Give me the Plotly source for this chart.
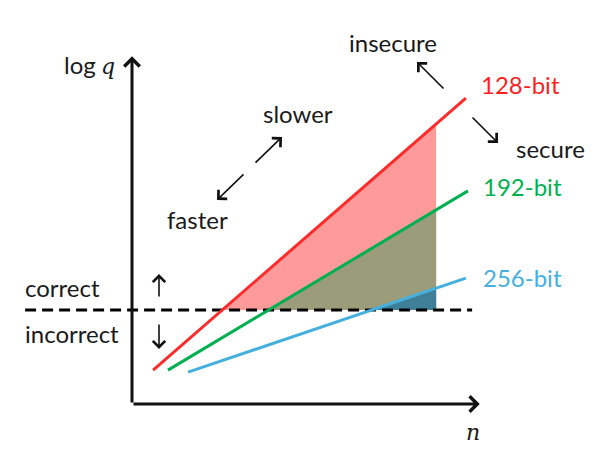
import numpy as np
import plotly.graph_objects as go

# Conceptual data (abstract units: n on x, log q on y)
series_names = ["128-bit", "192-bit", "256-bit"]
series_x = [[0.61, 9.65], [1.04, 9.71], [1.62, 9.65]]
series_y = [[0.98, 8.84], [0.98, 6.16], [0.92, 3.64]]
line_colors = ["#FF2A2A", "#00B050", "#45B0DE"]
fill_colors = ["#FF9A9A", "#9A9C7A", "#3F7F98"]
label_colors = ["#FF1F1F", "#00B050", "#45B0DE"]

correct_level = 2.72      # log q threshold (dashed line)
dash_x = [-3.09, 9.83]
n_max = 8.79              # right edge of shaded region

fig = go.Figure()

# shaded triangles
for xs, ys, fc in zip(series_x, series_y, fill_colors):
    xs = np.array(xs); ys = np.array(ys)
    slope = (ys[1] - ys[0]) / (xs[1] - xs[0])
    xi = xs[0] + (correct_level - ys[0]) / slope
    yr = ys[0] + slope * (n_max - xs[0])
    fig.add_trace(go.Scatter(
        x=[xi, n_max, n_max, xi], y=[correct_level, yr, correct_level, correct_level],
        fill="toself", fillcolor=fc, mode="none", hoverinfo="skip"))

# dashed threshold
fig.add_trace(go.Scatter(x=dash_x, y=[correct_level] * 2, mode="lines",
                         line=dict(color="black", width=3, dash="11px,6px")))

# security lines
for xs, ys, lc in zip(series_x, series_y, line_colors):
    fig.add_trace(go.Scatter(x=xs, y=ys, mode="lines", line=dict(color=lc, width=3)))

FONT = "Lato, Open Sans, sans-serif"
ann = []

def arrow(x0, y0, x1, y1, width=1.6, size=1.0, head=4):
    ann.append(dict(x=x1, y=y1, ax=x0, ay=y0, xref="x", yref="y", axref="x", ayref="y",
                    showarrow=True, arrowhead=head, arrowwidth=width, arrowsize=size,
                    arrowcolor="#111111", text=""))

# axes
arrow(0, 0, 0, 10.05, width=3, size=1.0)
arrow(0, 0, 10.05, 0, width=3, size=1.0)

def px2d(px, py):
    return (px - 132) / 34.6, (404 - py) / 34.6

# direction arrows
for (a, b) in [((445, 90), (417, 62)), ((471, 116), (498, 143)),
               ((254, 164), (282, 137)), ((245, 173), (217, 200)),
               ((159, 298), (159, 274)), ((159, 323), (159, 349))]:
    x0, y0 = px2d(*a); x1, y1 = px2d(*b)
    arrow(x0, y0, x1, y1, width=1.6, size=1.5)

def text(s, px, py, color="#1a1a1a", size=24, anchor="center", family=FONT):
    x, y = px2d(px, py)
    ann.append(dict(x=x, y=y, xref="x", yref="y", text=s, showarrow=False,
                    xanchor=anchor, yanchor="middle",
                    font=dict(family=family, size=size, color=color)))

text("insecure", 393, 42)
text("secure", 550, 148)
text("slower", 298, 113)
text("faster", 197, 219)
text("correct", 62, 287)
text("incorrect", 72, 333)
text("log", 80, 64)
text("<i>q</i>", 108, 66, family="DejaVu Serif, serif", size=22)
text("<i>n</i>", 473, 432, family="DejaVu Serif, serif", size=22)
label_px = [(479, 84), (481, 186), (481, 277)]
for name, (lx, ly), c in zip(series_names, label_px, label_colors):
    text(name, lx, ly, color=c, anchor="left")

fig.update_layout(
    width=602, height=455, margin=dict(l=0, r=0, t=0, b=0),
    paper_bgcolor="white", plot_bgcolor="white", showlegend=False,
    annotations=ann,
    xaxis=dict(range=[-132 / 34.6, 470 / 34.6], visible=False, fixedrange=True),
    yaxis=dict(range=[(404 - 455) / 34.6, 404 / 34.6], visible=False, fixedrange=True),
)
fig.write_html("out.html", config={"displayModeBar": False},
               post_script="document.body.style.margin='0px';document.body.style.overflow='hidden';")
